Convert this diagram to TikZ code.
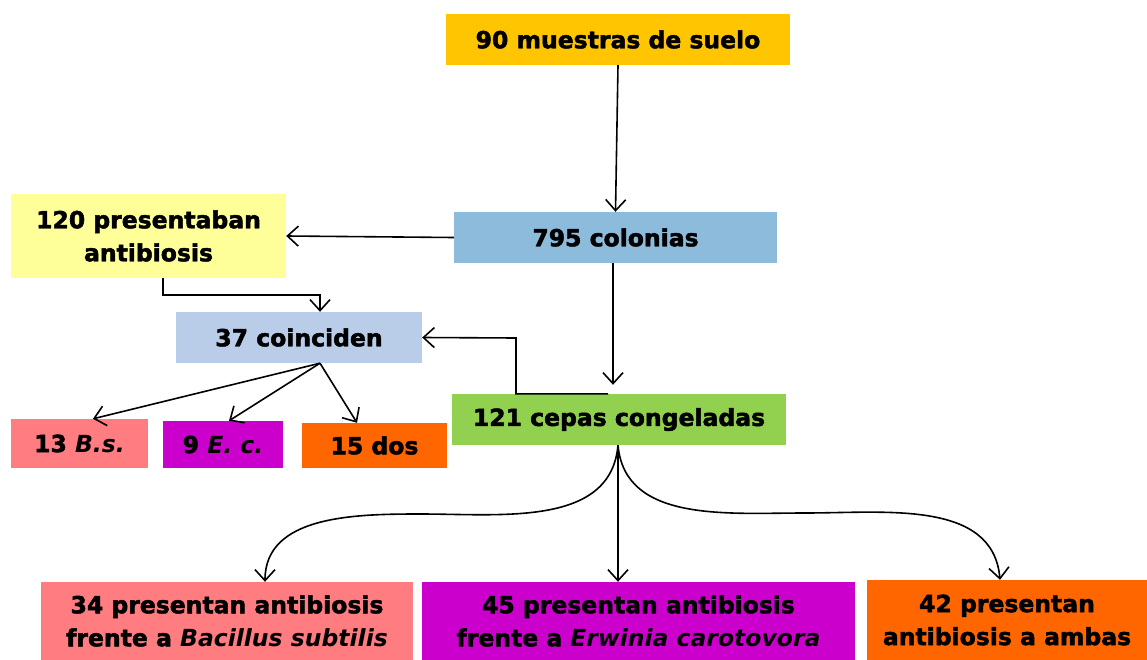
\documentclass[tikz,border=0pt]{standalone}
\usepackage{fontspec}
\setmainfont{DejaVu Sans}[BoldFeatures={FakeBold=2}]
\usetikzlibrary{arrows.meta,calc}
\definecolor{cgold}{HTML}{FFC600}
\definecolor{cblue}{HTML}{8DBBDC}
\definecolor{cyel}{HTML}{FFFF99}
\definecolor{clblue}{HTML}{B9CDE9}
\definecolor{cpink}{HTML}{FF7C80}
\definecolor{cmag}{HTML}{CC00CC}
\definecolor{corange}{HTML}{FF6600}
\definecolor{cgreen}{HTML}{92D050}
\tikzset{
  boxnode/.style={inner sep=0pt, align=center, font=\fontsize{23.5}{33}\selectfont\bfseries},
  conn/.style={draw=black, line width=1.6pt, -{Straight Barb[length=11pt,width=20pt,line width=1.6pt]}},
}
\begin{document}
\begin{tikzpicture}[x=1pt,y=-1pt]
\useasboundingbox (0,0) rectangle (1147,660);
\node[boxnode, fill=cgold, minimum width=344pt, minimum height=51pt] (m90) at (618,39.5) {90 muestras de suelo};
\node[boxnode, fill=cblue, minimum width=323pt, minimum height=51pt] (c795) at (615.5,237.5) {795 colonias};
\node[boxnode, fill=cyel, minimum width=275pt, minimum height=84pt] (p120) at (148.5,236) {120 presentaban\\antibiosis};
\node[boxnode, fill=clblue, minimum width=246pt, minimum height=51pt] (c37) at (299,337.5) {37 coinciden};
\node[boxnode, fill=cpink, minimum width=137pt, minimum height=49pt] (bs) at (79.5,443.5) {13 \textit{B.s.}};
\node[boxnode, fill=cmag, minimum width=120pt, minimum height=47pt] (ec) at (223,444.5) {9 \textit{E. c.}};
\node[boxnode, fill=corange, minimum width=145pt, minimum height=45pt] (dos) at (374.5,445.5) {15 dos};
\node[boxnode, fill=cgreen, minimum width=334pt, minimum height=51pt] (c121) at (619,419.5) {121 cepas congeladas};
\node[boxnode, fill=cpink, minimum width=372pt, minimum height=78pt] (b34) at (227,621) {34 presentan antibiosis\\frente a \textit{Bacillus subtilis}};
\node[boxnode, fill=cmag, minimum width=433pt, minimum height=78pt] (b45) at (638.5,621) {45 presentan antibiosis\\frente a \textit{Erwinia carotovora}};
\node[boxnode, fill=corange, minimum width=280pt, minimum height=80pt] (b42) at (1007,620) {42 presentan\\antibiosis a ambas};

\coordinate (k1) at (320,295);
\coordinate (k2) at (516,338);
\coordinate (hl) at (420,514);
\coordinate (hr) at (805,513);

\draw[conn] (m90.south) -- (c795.north);
\draw[conn] (c795.west) -- (p120.east);
\draw[conn] ([xshift=14.5pt]p120.south) |- (k1) -- ([xshift=21pt]c37.north);
\draw[conn] ([xshift=-11pt]c121.north) -| (k2) -- (c37.east);
\draw[conn, shorten >=9pt] ([xshift=-2.5pt]c795.south) -- ([xshift=-6pt]c121.north);
\draw[conn] ([xshift=21pt]c37.south) -- ([xshift=13.5pt]bs.north);
\draw[conn] ([xshift=21pt]c37.south) -- ([xshift=6pt]ec.north);
\draw[conn] ([xshift=21pt]c37.south) -- ([xshift=-17.5pt]dos.north);
\draw[conn] ([xshift=-1pt]c121.south) to[out=-95,in=0] (hl) to[out=180,in=90] ([xshift=38pt]b34.north);
\draw[conn] ([xshift=-1pt]c121.south) -- ([xshift=-20.5pt]b45.north);
\draw[conn] ([xshift=-1pt]c121.south) to[out=-85,in=180] (hr) to[out=0,in=95] ([xshift=-7pt]b42.north);
\end{tikzpicture}
\end{document}
